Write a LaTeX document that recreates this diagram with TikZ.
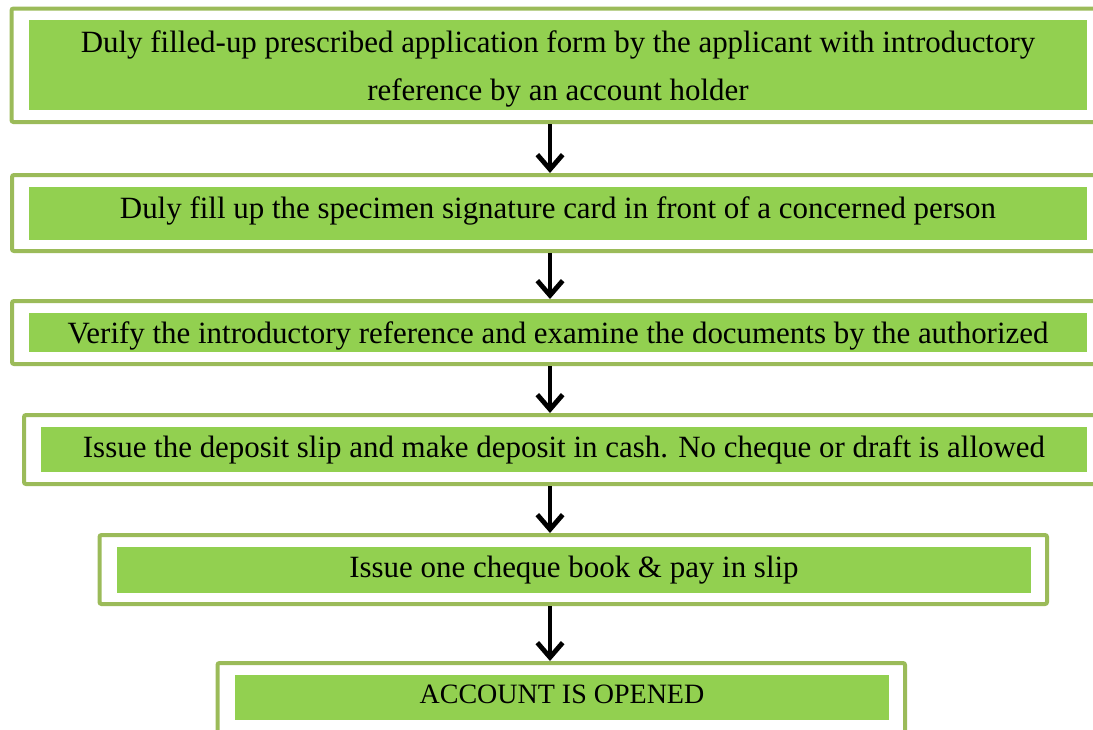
\documentclass[tikz,border=0pt]{standalone}
\usepackage{fontspec}
\setmainfont{Liberation Serif}
\usetikzlibrary{fit,arrows.meta}

\definecolor{outergreen}{RGB}{155,187,89}
\definecolor{fillgreen}{RGB}{146,208,80}

\tikzset{
outerbox/.style={draw=outergreen, line width=3pt, rounded corners=1.5pt, inner sep=0pt},
fillbox/.style={fill=fillgreen, inner sep=0pt},
boxtext/.style={inner sep=0pt, align=center, text=black,
  font=\fontsize{23.2}{36}\selectfont},
flowarrow/.style={draw=black, line width=3.6pt, -{Straight Barb[length=11pt,width=19pt]}}}

\begin{document}
\begin{tikzpicture}[x=0.75pt,y=0.75pt,yscale=-1,xscale=1]
\clip (0,0) rectangle (1093,729); %set diagram size 1093 x 729

%Shape: outer frames
\node [outerbox, fit={(11.5,8.5) (1105,122)}] (o1) {};
\node [outerbox, fit={(12,175) (1105,251)}] (o2) {};
\node [outerbox, fit={(12,301) (1105,364)}] (o3) {};
\node [outerbox, fit={(24,415) (1105,484)}] (o4) {};
\node [outerbox, fit={(99.5,535) (1047,604)}] (o5) {};
\node [outerbox, fit={(217.5,663) (905,740)}] (o6) {};

%Shape: green fills
\node [fillbox, fit={(29,20) (1087,110)}] (f1) {};
\node [fillbox, fit={(29,187) (1087,240)}] (f2) {};
\node [fillbox, fit={(29,313) (1087,352)}] (f3) {};
\node [fillbox, fit={(41,427) (1087,472)}] (f4) {};
\node [fillbox, fit={(117,547) (1031,593)}] (f5) {};
\node [fillbox, fit={(235,675) (889,720)}] (f6) {};

% Text Node
\node [boxtext] (t1) at ([yshift=3.25pt]f1.center) {Duly filled-up prescribed application form by the applicant with introductory\\reference by an account holder};
% Text Node
\node [boxtext] (t2) at ([yshift=-2.25pt]f2.center) {Duly fill up the specimen signature card in front of a concerned person};
% Text Node
\node [boxtext] (t3) at ([yshift=2.5pt]f3.center) {Verify the introductory reference and examine the documents by the authorized};
% Text Node
\node [boxtext] (t4) at (f4.center) {Issue the deposit slip and make deposit in cash. No cheque or draft is allowed};
% Text Node
\node [boxtext] (t5) at (f5.center) {Issue one cheque book \& pay in slip};
% Text Node
\node [boxtext, font=\fontsize{21}{24}\selectfont] (t6) at ([yshift=-2.5pt]f6.center) {ACCOUNT IS OPENED};

%Straight Lines: arrows
\coordinate (ax) at (550,0);
\draw [flowarrow] (o1.south -| ax) -- (o2.north -| ax);
\draw [flowarrow] (o2.south -| ax) -- (o3.north -| ax);
\draw [flowarrow] (o3.south -| ax) -- (o4.north -| ax);
\draw [flowarrow] (o4.south -| ax) -- (o5.north -| ax);
\draw [flowarrow] (o5.south -| ax) -- (o6.north -| ax);

\end{tikzpicture}
\end{document}
